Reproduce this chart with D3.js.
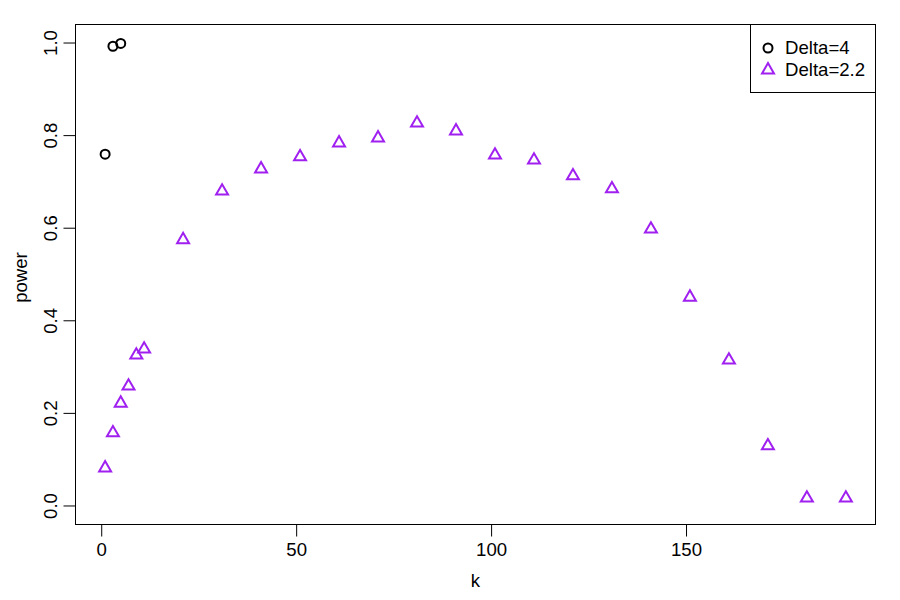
<!DOCTYPE html>
<html lang="en">
<head>
    <meta charset="UTF-8">
    <title>power vs k</title>
    <script src="https://d3js.org/d3.v7.min.js"></script>
    <style>
        body { margin: 0; background: white; }
        text { font-family: "Liberation Sans", Arial, sans-serif; }
    </style>
</head>
<body>
    <script>
        // data
        var kDelta4 = [1, 3, 5];
        var powerDelta4 = [0.760, 0.993, 0.999];
        var kDelta22 = [1, 3, 5, 7, 9, 11, 21, 31, 41, 51, 61, 71, 81, 91, 101, 111, 121, 131, 141, 151, 161, 171, 181, 191];
        var powerDelta22 = [0.082, 0.158, 0.222, 0.259, 0.326, 0.339, 0.575, 0.680, 0.728, 0.754, 0.784, 0.795,
                            0.827, 0.810, 0.758, 0.747, 0.713, 0.685, 0.598, 0.451, 0.315, 0.130, 0.017, 0.017];
        var xTicks = [0, 50, 100, 150];
        var yTicks = [0.0, 0.2, 0.4, 0.6, 0.8, 1.0];
        var legendLabels = ["Delta=4", "Delta=2.2"];

        var W = 900, H = 600;
        var pLeft = 75.5, pRight = 875.5, pTop = 24.5, pBottom = 524.5;
        var purple = "#a020f0";
        var fs = "18.6px";

        var svg = d3.select("body").append("svg")
            .attr("width", W)
            .attr("height", H);

        // R style: range extended by 4%
        var xs = d3.scaleLinear().domain([1 - 190 * 0.04, 191 + 190 * 0.04]).range([pLeft, pRight]);
        var ys = d3.scaleLinear().domain([-0.04, 1.04]).range([pBottom, pTop]);

        // box
        svg.append("rect")
            .attr("x", pLeft).attr("y", pTop)
            .attr("width", pRight - pLeft).attr("height", pBottom - pTop)
            .style("fill", "none").style("stroke", "black").style("stroke-width", 1);

        var xAxis = svg.append("g")
            .attr("transform", "translate(0," + pBottom + ")")
            .call(d3.axisBottom(xs).tickValues(xTicks).tickSize(12).tickPadding(6).tickFormat(d3.format("d")));
        xAxis.select(".domain").attr("d", "M" + xs(0) + ",0H" + xs(150));
        xAxis.selectAll("text").style("font-size", fs).attr("fill", "black");

        var yAxis = svg.append("g")
            .attr("transform", "translate(" + pLeft + ",0)")
            .call(d3.axisLeft(ys).tickValues(yTicks).tickSize(12).tickFormat(d3.format(".1f")));
        yAxis.select(".domain").attr("d", "M0," + ys(0) + "V" + ys(1));
        yAxis.selectAll(".tick").attr("transform", null);
        yAxis.selectAll(".tick line")
            .attr("y1", function(d) { return ys(d); })
            .attr("y2", function(d) { return ys(d); });
        yAxis.selectAll(".tick text")
            .style("font-size", fs).attr("fill", "black")
            .attr("x", 0).attr("y", 0).attr("dy", 0)
            .attr("text-anchor", "middle")
            .attr("transform", function(d) { return "translate(-19," + ys(d) + ") rotate(-90)"; });

        svg.append("text")
            .attr("x", (pLeft + pRight) / 2).attr("y", 587)
            .attr("text-anchor", "middle")
            .style("font-size", fs)
            .text("k");
        svg.append("text")
            .attr("transform", "translate(27," + ((pTop + pBottom) / 2 + 3) + ") rotate(-90)")
            .attr("text-anchor", "middle")
            .style("font-size", fs)
            .text("power");

        var tri = d3.symbol().type(d3.symbolTriangle).size(62);

        svg.selectAll(".tri")
            .data(kDelta22)
            .enter().append("path")
            .attr("class", "tri")
            .attr("d", tri)
            .attr("transform", function(d, i) { return "translate(" + xs(d) + "," + ys(powerDelta22[i]) + ")"; })
            .style("fill", "none").style("stroke", purple).style("stroke-width", 2);

        svg.selectAll(".circ")
            .data(kDelta4)
            .enter().append("circle")
            .attr("class", "circ")
            .attr("cx", function(d) { return xs(d); })
            .attr("cy", function(d, i) { return ys(powerDelta4[i]); })
            .attr("r", 4.5)
            .style("fill", "none").style("stroke", "black").style("stroke-width", 2);

        // legend
        var lg = svg.append("g");
        lg.append("rect")
            .attr("x", 750.5).attr("y", pTop)
            .attr("width", pRight - 750.5).attr("height", 68)
            .style("fill", "white").style("stroke", "black").style("stroke-width", 1);
        lg.append("circle")
            .attr("cx", 768).attr("cy", 48).attr("r", 4.5)
            .style("fill", "none").style("stroke", "black").style("stroke-width", 2);
        lg.append("path")
            .attr("d", tri)
            .attr("transform", "translate(768,70)")
            .style("fill", "none").style("stroke", purple).style("stroke-width", 2);
        lg.selectAll(".lt")
            .data(legendLabels)
            .enter().append("text")
            .attr("class", "lt")
            .attr("x", 785)
            .attr("y", function(d, i) { return 54 + i * 22; })
            .style("font-size", fs)
            .text(function(d) { return d; });
    </script>
</body>
</html>
